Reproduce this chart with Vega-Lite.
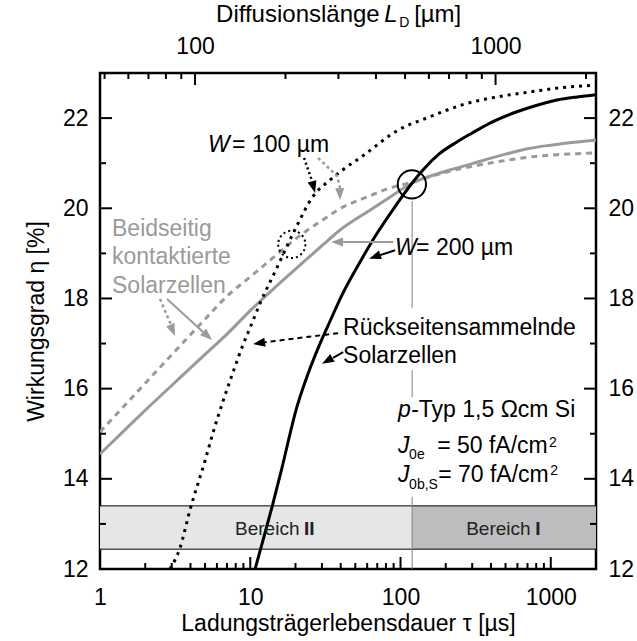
{
  "$schema": "https://vega.github.io/schema/vega-lite/v6.json",
  "width": 496,
  "height": 496,
  "autosize": {"type": "none"},
  "padding": {"left": 100, "top": 73, "right": 41, "bottom": 72},
  "background": "white",
  "config": {
    "view": {"stroke": "black", "strokeWidth": 2.5},
    "font": "Liberation Sans",
    "axis": {"grid": false, "domain": false, "ticks": false, "labelFont": "Liberation Sans", "labelFontSize": 23, "labelColor": "black", "titleFont": "Liberation Sans", "titleFontSize": 23, "titleFontWeight": "normal", "titleColor": "black", "labelFlush": false, "labelOverlap": false, "labelBound": false},
    "text": {"font": "Liberation Sans"}
  },
  "datasets": {
    "curves": [
      {"s":"gs","tau":1,"eta":14.55},{"s":"gs","tau":1.5,"eta":15.12},{"s":"gs","tau":2,"eta":15.52},{"s":"gs","tau":3,"eta":16.07},{"s":"gs","tau":5,"eta":16.76},{"s":"gs","tau":7,"eta":17.21},{"s":"gs","tau":10,"eta":17.73},{"s":"gs","tau":15,"eta":18.28},{"s":"gs","tau":20,"eta":18.65},{"s":"gs","tau":30,"eta":19.17},{"s":"gs","tau":40,"eta":19.53},{"s":"gs","tau":60,"eta":19.92},{"s":"gs","tau":80,"eta":20.19},{"s":"gs","tau":120,"eta":20.56},{"s":"gs","tau":200,"eta":20.82},{"s":"gs","tau":300,"eta":20.99},{"s":"gs","tau":500,"eta":21.2},{"s":"gs","tau":700,"eta":21.32},{"s":"gs","tau":1000,"eta":21.4},{"s":"gs","tau":1500,"eta":21.47},{"s":"gs","tau":2000,"eta":21.51},
      {"s":"gd","tau":1,"eta":15.04},{"s":"gd","tau":1.5,"eta":15.67},{"s":"gd","tau":2,"eta":16.12},{"s":"gd","tau":3,"eta":16.75},{"s":"gd","tau":5,"eta":17.54},{"s":"gd","tau":7,"eta":18.05},{"s":"gd","tau":10,"eta":18.48},{"s":"gd","tau":15,"eta":18.97},{"s":"gd","tau":20,"eta":19.32},{"s":"gd","tau":30,"eta":19.73},{"s":"gd","tau":40,"eta":20.0},{"s":"gd","tau":60,"eta":20.25},{"s":"gd","tau":80,"eta":20.42},{"s":"gd","tau":120,"eta":20.58},{"s":"gd","tau":200,"eta":20.8},{"s":"gd","tau":300,"eta":20.93},{"s":"gd","tau":500,"eta":21.06},{"s":"gd","tau":700,"eta":21.13},{"s":"gd","tau":1000,"eta":21.18},{"s":"gd","tau":1500,"eta":21.21},{"s":"gd","tau":2000,"eta":21.23},
      {"s":"bs","tau":10.77,"eta":12.0},{"s":"bs","tau":12,"eta":12.57},{"s":"bs","tau":13.97,"eta":13.38},{"s":"bs","tau":16,"eta":14.15},{"s":"bs","tau":20.47,"eta":15.6},{"s":"bs","tau":25,"eta":16.45},{"s":"bs","tau":30,"eta":17.1},{"s":"bs","tau":34,"eta":17.5},{"s":"bs","tau":40,"eta":18.02},{"s":"bs","tau":56.2,"eta":18.92},{"s":"bs","tau":70,"eta":19.45},{"s":"bs","tau":94.8,"eta":20.1},{"s":"bs","tau":119.5,"eta":20.56},{"s":"bs","tau":141,"eta":20.85},{"s":"bs","tau":180,"eta":21.2},{"s":"bs","tau":237,"eta":21.47},{"s":"bs","tau":300,"eta":21.67},{"s":"bs","tau":394,"eta":21.89},{"s":"bs","tau":595,"eta":22.14},{"s":"bs","tau":800,"eta":22.28},{"s":"bs","tau":1100,"eta":22.4},{"s":"bs","tau":1500,"eta":22.47},{"s":"bs","tau":2000,"eta":22.52},
      {"s":"bd","tau":2.92,"eta":12.0},{"s":"bd","tau":3.41,"eta":12.47},{"s":"bd","tau":3.97,"eta":13.31},{"s":"bd","tau":5,"eta":14.4},{"s":"bd","tau":5.65,"eta":15.02},{"s":"bd","tau":7.69,"eta":16.37},{"s":"bd","tau":8.94,"eta":16.97},{"s":"bd","tau":10,"eta":17.36},{"s":"bd","tau":11.65,"eta":17.9},{"s":"bd","tau":15,"eta":18.67},{"s":"bd","tau":20,"eta":19.55},{"s":"bd","tau":26,"eta":20.25},{"s":"bd","tau":34,"eta":20.63},{"s":"bd","tau":40,"eta":20.82},{"s":"bd","tau":56,"eta":21.16},{"s":"bd","tau":95,"eta":21.72},{"s":"bd","tau":157,"eta":22.03},{"s":"bd","tau":261,"eta":22.3},{"s":"bd","tau":439,"eta":22.47},{"s":"bd","tau":729,"eta":22.58},{"s":"bd","tau":1212,"eta":22.68},{"s":"bd","tau":2000,"eta":22.73}
    ],
    "arrows": [
      {"arrow":"a1","k":1,"tau":22.81,"eta":21.115},{"arrow":"a1","k":2,"tau":25.79,"eta":20.605},
      {"arrow":"a2","k":1,"tau":28.28,"eta":21.115},{"arrow":"a2","k":2,"tau":37.84,"eta":20.716},{"arrow":"a2","k":3,"tau":39.62,"eta":20.45},
      {"arrow":"a3","k":1,"tau":89.3,"eta":19.25},{"arrow":"a3","k":2,"tau":41.49,"eta":19.25},
      {"arrow":"a4","k":1,"tau":92.0,"eta":19.07},{"arrow":"a4","k":2,"tau":73.14,"eta":18.96},
      {"arrow":"a5","k":1,"tau":2.508,"eta":17.99},{"arrow":"a5","k":2,"tau":2.97,"eta":17.41},
      {"arrow":"a6","k":1,"tau":2.793,"eta":17.99},{"arrow":"a6","k":2,"tau":4.851,"eta":17.256},
      {"arrow":"a7","k":1,"tau":38.42,"eta":17.23},{"arrow":"a7","k":2,"tau":12.55,"eta":17.03},
      {"arrow":"a8","k":1,"tau":41.49,"eta":16.81},{"arrow":"a8","k":2,"tau":35.6,"eta":16.68}
    ],
    "bereiche": [
      {"bereich":"II","tau":1,"tau2":119.5,"eta":12.44,"eta2":13.4},
      {"bereich":"I","tau":119.5,"tau2":2000,"eta":12.44,"eta2":13.4}
    ],
    "hlines": [
      {"tau":1,"tau2":2000,"eta":13.4},
      {"tau":1,"tau2":2000,"eta":12.44}
    ],
    "vline": [
      {"tau":119.5,"eta":20.16,"eta2":17.79},
      {"tau":119.5,"eta":16.41,"eta2":15.81},
      {"tau":119.5,"eta":13.6,"eta2":12.0}
    ],
    "vticks": [
      {"tau":10,"eta":12,"eta2":12.266},{"tau":100,"eta":12,"eta2":12.266},{"tau":1000,"eta":12,"eta2":12.266},
      {"tau":2,"eta":12,"eta2":12.133},{"tau":3,"eta":12,"eta2":12.133},{"tau":4,"eta":12,"eta2":12.133},{"tau":5,"eta":12,"eta2":12.133},{"tau":6,"eta":12,"eta2":12.133},{"tau":7,"eta":12,"eta2":12.133},{"tau":8,"eta":12,"eta2":12.133},{"tau":9,"eta":12,"eta2":12.133},
      {"tau":20,"eta":12,"eta2":12.133},{"tau":30,"eta":12,"eta2":12.133},{"tau":40,"eta":12,"eta2":12.133},{"tau":50,"eta":12,"eta2":12.133},{"tau":60,"eta":12,"eta2":12.133},{"tau":70,"eta":12,"eta2":12.133},{"tau":80,"eta":12,"eta2":12.133},{"tau":90,"eta":12,"eta2":12.133},
      {"tau":200,"eta":12,"eta2":12.133},{"tau":300,"eta":12,"eta2":12.133},{"tau":400,"eta":12,"eta2":12.133},{"tau":500,"eta":12,"eta2":12.133},{"tau":600,"eta":12,"eta2":12.133},{"tau":700,"eta":12,"eta2":12.133},{"tau":800,"eta":12,"eta2":12.133},{"tau":900,"eta":12,"eta2":12.133}
    ],
    "hticks": [
      {"eta":14,"tau":1,"tau2":1.2024},{"eta":16,"tau":1,"tau2":1.2024},{"eta":18,"tau":1,"tau2":1.2024},{"eta":20,"tau":1,"tau2":1.2024},{"eta":22,"tau":1,"tau2":1.2024},
      {"eta":13,"tau":1,"tau2":1.0963},{"eta":15,"tau":1,"tau2":1.0963},{"eta":17,"tau":1,"tau2":1.0963},{"eta":19,"tau":1,"tau2":1.0963},{"eta":21,"tau":1,"tau2":1.0963},
      {"eta":14,"tau":2000,"tau2":1663.4},{"eta":16,"tau":2000,"tau2":1663.4},{"eta":18,"tau":2000,"tau2":1663.4},{"eta":20,"tau":2000,"tau2":1663.4},{"eta":22,"tau":2000,"tau2":1663.4},
      {"eta":13,"tau":2000,"tau2":1824.3},{"eta":15,"tau":2000,"tau2":1824.3},{"eta":17,"tau":2000,"tau2":1824.3},{"eta":19,"tau":2000,"tau2":1824.3},{"eta":21,"tau":2000,"tau2":1824.3}
    ],
    "Lticks": [
      {"L":100,"eta":23,"eta2":22.734},{"L":1000,"eta":23,"eta2":22.734},
      {"L":50,"eta":23,"eta2":22.867},{"L":60,"eta":23,"eta2":22.867},{"L":70,"eta":23,"eta2":22.867},{"L":80,"eta":23,"eta2":22.867},{"L":90,"eta":23,"eta2":22.867},
      {"L":200,"eta":23,"eta2":22.867},{"L":300,"eta":23,"eta2":22.867},{"L":400,"eta":23,"eta2":22.867},{"L":500,"eta":23,"eta2":22.867},{"L":600,"eta":23,"eta2":22.867},{"L":700,"eta":23,"eta2":22.867},{"L":800,"eta":23,"eta2":22.867},{"L":900,"eta":23,"eta2":22.867},{"L":2000,"eta":23,"eta2":22.867}
    ],
    "txt_black": [
      {"t":"= 100 µm","tau":7.57,"eta":21.25},
      {"t":"= 200 µm","tau":127.0,"eta":18.96},
      {"t":"Rückseitensammelnde","tau":41.49,"eta":17.19},
      {"t":"Solarzellen","tau":41.49,"eta":16.57},
      {"t":"-Typ 1,5 Ωcm Si","tau":117.7,"eta":15.37},
      {"t":"= 50 fA/cm","tau":175.3,"eta":14.57},
      {"t":"= 70 fA/cm","tau":178.0,"eta":13.93}
    ],
    "txt_title": [
      {"t":"Diffusionslänge","tau":5.92,"eta":24.13},
      {"t":"[µm]","tau":123.2,"eta":24.13}
    ],
    "txt_italic": [
      {"t":"W","tau":5.236,"eta":21.25},
      {"t":"W","tau":92.0,"eta":18.96},
      {"t":"p","tau":96.4,"eta":15.37},
      {"t":"J","tau":96.4,"eta":14.57},
      {"t":"J","tau":96.4,"eta":13.93}
    ],
    "txt_title_italic": [
      {"t":"L","tau":77.8,"eta":24.13}
    ],
    "txt_small": [
      {"t":"0e","tau":114.1,"eta":14.44},
      {"t":"0b,S","tau":114.1,"eta":13.77},
      {"t":"2","tau":975,"eta":14.71},
      {"t":"2","tau":991,"eta":14.08},
      {"t":"D","tau":97.9,"eta":24.02}
    ],
    "txt_gray": [
      {"t":"Beidseitig","tau":1.202,"eta":19.39},
      {"t":"kontaktierte","tau":1.202,"eta":18.76},
      {"t":"Solarzellen","tau":1.202,"eta":18.12}
    ],
    "txt_bereich": [
      {"t":"Bereich","tau":7.92,"eta":12.75},
      {"t":"Bereich","tau":273.4,"eta":12.75}
    ],
    "txt_bereich_bold": [
      {"t":"II","tau":22.8,"eta":12.75},
      {"t":"I","tau":787,"eta":12.75}
    ]
  },
  "layer": [
    {
      "encoding": {
        "x": {"field": "tau", "type": "quantitative",
          "scale": {"type": "log", "domain": [1, 2000], "nice": false},
          "axis": {"orient": "bottom", "values": [1, 10, 100, 1000],
            "format": "d", "labelPadding": 17,
            "title": "Ladungsträgerlebensdauer τ [µs]", "titlePadding": 3}},
        "y": {"field": "eta", "type": "quantitative",
          "scale": {"domain": [12, 23], "nice": false, "zero": false},
          "axis": {"orient": "left", "values": [12, 14, 16, 18, 20, 22],
            "labelPadding": 12,
            "title": "Wirkungsgrad η [%]", "titlePadding": 14}}
      },
      "layer": [
        {"data": {"name": "bereiche"}, "mark": {"type": "rect"},
         "encoding": {"x2": {"field": "tau2"}, "y2": {"field": "eta2"},
           "color": {"field": "bereich", "type": "nominal", "scale": {"domain": ["II","I"], "range": ["#e6e6e7","#bdbdbf"]}, "legend": null}}},
        {"data": {"name": "hlines"}, "mark": {"type": "rule", "color": "black", "strokeWidth": 1},
         "encoding": {"x2": {"field": "tau2"}}},
        {"data": {"name": "vline"}, "mark": {"type": "rule", "color": "#808080", "strokeWidth": 1},
         "encoding": {"y2": {"field": "eta2"}}},
        {"data": {"name": "vticks"}, "mark": {"type": "rule", "color": "black", "strokeWidth": 2},
         "encoding": {"y2": {"field": "eta2"}}},
        {"data": {"name": "hticks"}, "mark": {"type": "rule", "color": "black", "strokeWidth": 2},
         "encoding": {"x2": {"field": "tau2"}}},
        {"data": {"name": "curves"}, "transform": [{"filter": "datum.s == 'gs'"}],
         "mark": {"type": "line", "color": "#9a9a9a", "strokeWidth": 3, "interpolate": "monotone", "clip": true}, "encoding": {}},
        {"data": {"name": "curves"}, "transform": [{"filter": "datum.s == 'gd'"}],
         "mark": {"type": "line", "color": "#9a9a9a", "strokeWidth": 3, "strokeDash": [6, 5], "interpolate": "monotone", "clip": true}, "encoding": {}},
        {"data": {"name": "curves"}, "transform": [{"filter": "datum.s == 'bs'"}],
         "mark": {"type": "line", "color": "black", "strokeWidth": 3, "interpolate": "monotone", "clip": true}, "encoding": {}},
        {"data": {"name": "curves"}, "transform": [{"filter": "datum.s == 'bd'"}],
         "mark": {"type": "line", "color": "black", "strokeWidth": 3, "strokeDash": [3, 5], "interpolate": "monotone", "clip": true}, "encoding": {}},
        {"data": {"values": [{"tau": 119, "eta": 20.53}]},
         "mark": {"type": "point", "shape": "circle", "filled": false, "stroke": "black", "strokeWidth": 2, "size": 800, "opacity": 1}},
        {"data": {"values": [{"tau": 18.9, "eta": 19.2}]},
         "mark": {"type": "point", "shape": "circle", "filled": false, "stroke": "black", "strokeWidth": 2, "strokeDash": [2, 3], "size": 740, "opacity": 1}},
        {"data": {"name": "arrows"}, "transform": [{"filter": {"field": "arrow", "oneOf": ["a1"]}}],
         "mark": {"type": "line", "color": "black", "strokeWidth": 2.5, "strokeDash": [2, 3]},
         "encoding": {"detail": {"field": "arrow"}, "order": {"field": "k"}}},
        {"data": {"name": "arrows"}, "transform": [{"filter": {"field": "arrow", "oneOf": ["a2", "a5"]}}],
         "mark": {"type": "line", "color": "#9a9a9a", "strokeWidth": 2.5, "strokeDash": [3, 3]},
         "encoding": {"detail": {"field": "arrow"}, "order": {"field": "k"}}},
        {"data": {"name": "arrows"}, "transform": [{"filter": {"field": "arrow", "oneOf": ["a3", "a6"]}}],
         "mark": {"type": "line", "color": "#9a9a9a", "strokeWidth": 2},
         "encoding": {"detail": {"field": "arrow"}, "order": {"field": "k"}}},
        {"data": {"name": "arrows"}, "transform": [{"filter": {"field": "arrow", "oneOf": ["a4", "a8"]}}],
         "mark": {"type": "line", "color": "black", "strokeWidth": 2},
         "encoding": {"detail": {"field": "arrow"}, "order": {"field": "k"}}},
        {"data": {"name": "arrows"}, "transform": [{"filter": {"field": "arrow", "oneOf": ["a7"]}}],
         "mark": {"type": "line", "color": "black", "strokeWidth": 2, "strokeDash": [5, 4]},
         "encoding": {"detail": {"field": "arrow"}, "order": {"field": "k"}}},
        {"data": {"values": [{"tau": 27.01, "eta": 20.34}]}, "mark": {"type": "point", "shape": "M0,0L-0.75,2L0.75,2Z", "filled": true, "color": "black", "size": 144, "angle": 165, "opacity": 1}},
        {"data": {"values": [{"tau": 39.62, "eta": 20.18}]}, "mark": {"type": "point", "shape": "M0,0L-0.75,2L0.75,2Z", "filled": true, "color": "#9a9a9a", "size": 144, "angle": 178, "opacity": 1}},
        {"data": {"values": [{"tau": 34.51, "eta": 19.25}]}, "mark": {"type": "point", "shape": "M0,0L-0.75,2L0.75,2Z", "filled": true, "color": "#9a9a9a", "size": 144, "angle": 270, "opacity": 1}},
        {"data": {"values": [{"tau": 61.8, "eta": 18.88}]}, "mark": {"type": "point", "shape": "M0,0L-0.75,2L0.75,2Z", "filled": true, "color": "black", "size": 144, "angle": 251, "opacity": 1}},
        {"data": {"values": [{"tau": 3.158, "eta": 17.17}]}, "mark": {"type": "point", "shape": "M0,0L-0.75,2L0.75,2Z", "filled": true, "color": "#9a9a9a", "size": 144, "angle": 157, "opacity": 1}},
        {"data": {"values": [{"tau": 5.568, "eta": 17.08}]}, "mark": {"type": "point", "shape": "M0,0L-0.75,2L0.75,2Z", "filled": true, "color": "#9a9a9a", "size": 144, "angle": 132, "opacity": 1}},
        {"data": {"values": [{"tau": 10.44, "eta": 16.99}]}, "mark": {"type": "point", "shape": "M0,0L-0.75,2L0.75,2Z", "filled": true, "color": "black", "size": 144, "angle": 262, "opacity": 1}},
        {"data": {"values": [{"tau": 30.06, "eta": 16.55}]}, "mark": {"type": "point", "shape": "M0,0L-0.75,2L0.75,2Z", "filled": true, "color": "black", "size": 144, "angle": 240, "opacity": 1}},
        {"data": {"name": "txt_black"}, "mark": {"type": "text", "align": "left", "baseline": "alphabetic", "fontSize": 23, "color": "black", "font": "Liberation Sans"},
         "encoding": {"text": {"field": "t"}}},
        {"data": {"name": "txt_title"}, "mark": {"type": "text", "align": "left", "baseline": "alphabetic", "fontSize": 24, "color": "black", "font": "Liberation Sans"},
         "encoding": {"text": {"field": "t"}}},
        {"data": {"name": "txt_italic"}, "mark": {"type": "text", "align": "left", "baseline": "alphabetic", "fontSize": 23, "fontStyle": "italic", "color": "black", "font": "Liberation Sans"},
         "encoding": {"text": {"field": "t"}}},
        {"data": {"name": "txt_title_italic"}, "mark": {"type": "text", "align": "left", "baseline": "alphabetic", "fontSize": 24, "fontStyle": "italic", "color": "black", "font": "Liberation Sans"},
         "encoding": {"text": {"field": "t"}}},
        {"data": {"name": "txt_small"}, "mark": {"type": "text", "align": "left", "baseline": "alphabetic", "fontSize": 14, "color": "black", "font": "Liberation Sans"},
         "encoding": {"text": {"field": "t"}}},
        {"data": {"name": "txt_gray"}, "mark": {"type": "text", "align": "left", "baseline": "alphabetic", "fontSize": 23, "color": "#9a9a9a", "font": "Liberation Sans"},
         "encoding": {"text": {"field": "t"}}},
        {"data": {"name": "txt_bereich"}, "mark": {"type": "text", "align": "left", "baseline": "alphabetic", "fontSize": 19, "color": "#222", "font": "Liberation Sans"},
         "encoding": {"text": {"field": "t"}}},
        {"data": {"name": "txt_bereich_bold"}, "mark": {"type": "text", "align": "left", "baseline": "alphabetic", "fontSize": 19, "fontWeight": "bold", "color": "#222", "font": "Liberation Sans"},
         "encoding": {"text": {"field": "t"}}}
      ]
    },
    {
      "encoding": {
        "x": {"field": "L", "type": "quantitative",
          "scale": {"type": "log", "domain": [48.28, 2159], "nice": false},
          "axis": {"orient": "top", "values": [100, 1000], "format": "d",
            "labelPadding": 15, "title": null}},
        "y": {"field": "eta", "type": "quantitative",
          "scale": {"domain": [12, 23], "nice": false, "zero": false},
          "axis": {"orient": "right", "values": [12, 14, 16, 18, 20, 22],
            "labelPadding": 12, "title": null}}
      },
      "layer": [
        {"data": {"name": "Lticks"}, "mark": {"type": "rule", "color": "black", "strokeWidth": 2},
         "encoding": {"y2": {"field": "eta2"}}}
      ]
    }
  ],
  "resolve": {"scale": {"x": "independent", "y": "independent"}}
}
